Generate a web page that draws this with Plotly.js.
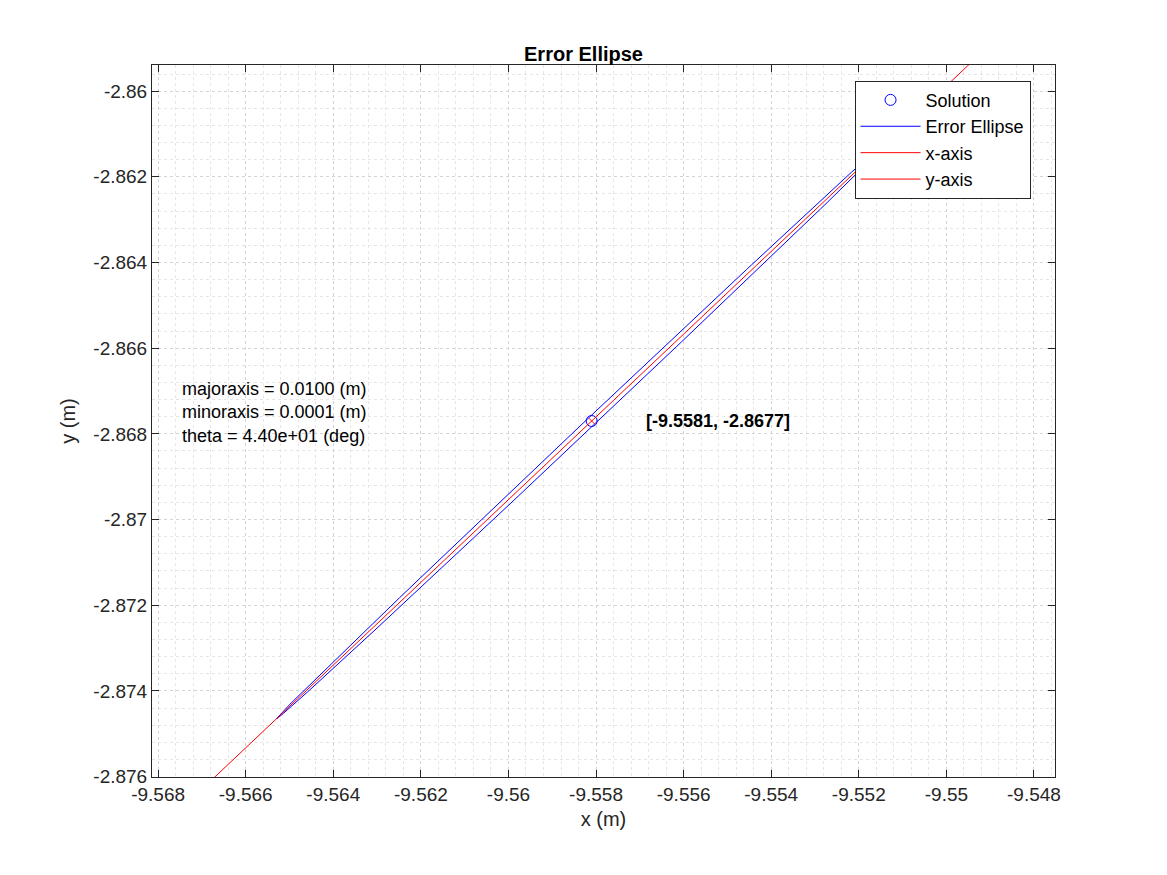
<!DOCTYPE html>
<html>
<head>
<meta charset="utf-8">
<script src="https://cdn.plot.ly/plotly-3.0.1.min.js"></script>
<style>body{margin:0;background:#fff}</style>
</head>
<body>
<div id="plot" style="width:1167px;height:875px"></div>
<script>
// solution and error ellipse parameters
var solution = [-9.5581, -2.8677];
var majoraxis = 0.0100;
var minoraxis = 0.0001;
var thetaDeg = 44.0;
var axisLineHalf = 0.015;   // red axis lines run past the ellipse
var xTicks = [-9.568, -9.566, -9.564, -9.562, -9.56, -9.558, -9.556, -9.554, -9.552, -9.55, -9.548];
var yTicks = [-2.86, -2.862, -2.864, -2.866, -2.868, -2.87, -2.872, -2.874, -2.876];

var th = thetaDeg * Math.PI / 180;
var ex = [], ey = [];
for (var i = 0; i <= 360; i++) {
  var t = i * Math.PI / 180;
  var a = majoraxis * Math.cos(t), b = minoraxis * Math.sin(t);
  ex.push(solution[0] + a * Math.cos(th) - b * Math.sin(th));
  ey.push(solution[1] + a * Math.sin(th) + b * Math.cos(th));
}
var xa = [solution[0] - axisLineHalf * Math.cos(th), solution[0] + axisLineHalf * Math.cos(th)];
var ya = [solution[1] - axisLineHalf * Math.sin(th), solution[1] + axisLineHalf * Math.sin(th)];
var xb = [solution[0] + minoraxis * Math.sin(th), solution[0] - minoraxis * Math.sin(th)];
var yb = [solution[1] - minoraxis * Math.cos(th), solution[1] + minoraxis * Math.cos(th)];

var data = [
  {x: [solution[0]], y: [solution[1]], mode: 'markers', name: 'Solution',
   marker: {symbol: 'circle-open', size: 11, color: 'blue', line: {width: 1}}},
  {x: ex, y: ey, mode: 'lines', name: 'Error Ellipse', line: {color: '#0000ff', width: 1}},
  {x: xa, y: ya, mode: 'lines', name: 'x-axis', line: {color: '#ff0000', width: 1}},
  {x: xb, y: yb, mode: 'lines', name: 'y-axis', line: {color: '#ff0000', width: 1}}
];

var axisCommon = {
  showline: true, mirror: 'ticks', linecolor: '#262626', linewidth: 1,
  ticks: 'inside', ticklen: 7, tickcolor: '#262626',
  zeroline: false, showgrid: true, gridcolor: '#d4d4d4', griddash: 'dot', gridwidth: 1,
  tickfont: {family: 'Liberation Sans, Arial', size: 19, color: '#262626'}
};

var layout = {
  width: 1167, height: 875,
  paper_bgcolor: 'white', plot_bgcolor: 'white',
  margin: {l: 152, r: 112, t: 65, b: 98},
  title: {text: '<b>Error Ellipse</b>', x: 0.5, xanchor: 'center', yref: 'paper', y: 1, yanchor: 'bottom',
          pad: {b: 4}, font: {family: 'Liberation Sans, Arial', size: 20, color: '#000'}},
  xaxis: Object.assign({}, axisCommon, {
    range: [-9.56814, -9.54752], tickvals: xTicks, ticktext: xTicks.map(String),
    minor: {dtick: 0.0004, tick0: -9.568, showgrid: true, gridcolor: '#e6e6e6', griddash: 'dot', ticks: ''},
    title: {text: 'x (m)', standoff: 8, font: {family: 'Liberation Sans, Arial', size: 20, color: '#262626'}}
  }),
  yaxis: Object.assign({}, axisCommon, {
    range: [-2.87601, -2.85939], tickvals: yTicks, ticktext: yTicks.map(String),
    minor: {dtick: 0.0004, tick0: -2.876, showgrid: true, gridcolor: '#e6e6e6', griddash: 'dot', ticks: ''},
    title: {text: 'y (m)', standoff: 12, font: {family: 'Liberation Sans, Arial', size: 20, color: '#262626'}}
  }),
  legend: {x: 0.778, y: 0.978, xanchor: 'left', yanchor: 'top', bgcolor: 'white',
           bordercolor: '#262626', borderwidth: 1, itemwidth: 60,
           font: {family: 'Liberation Sans, Arial', size: 18, color: '#000'}, tracegroupgap: 0},
  annotations: [
    {xref: 'x', yref: 'y', x: -9.5675, y: -2.8675, xanchor: 'left', yanchor: 'middle', showarrow: false, align: 'left',
     text: 'majoraxis = ' + majoraxis.toFixed(4) + ' (m)<br>minoraxis = ' + minoraxis.toFixed(4) + ' (m)<br>theta = 4.40e+01 (deg)',
     font: {family: 'Liberation Sans, Arial', size: 18, color: '#000'}},
    {xref: 'x', yref: 'y', x: -9.5569, y: -2.8677, xanchor: 'left', yanchor: 'middle', showarrow: false,
     text: '<b>[' + solution[0].toFixed(4) + ', ' + solution[1].toFixed(4) + ']</b>',
     font: {family: 'Liberation Sans, Arial', size: 18, color: '#000'}}
  ]
};

Plotly.newPlot('plot', data, layout, {displayModeBar: false});
</script>
</body>
</html>
